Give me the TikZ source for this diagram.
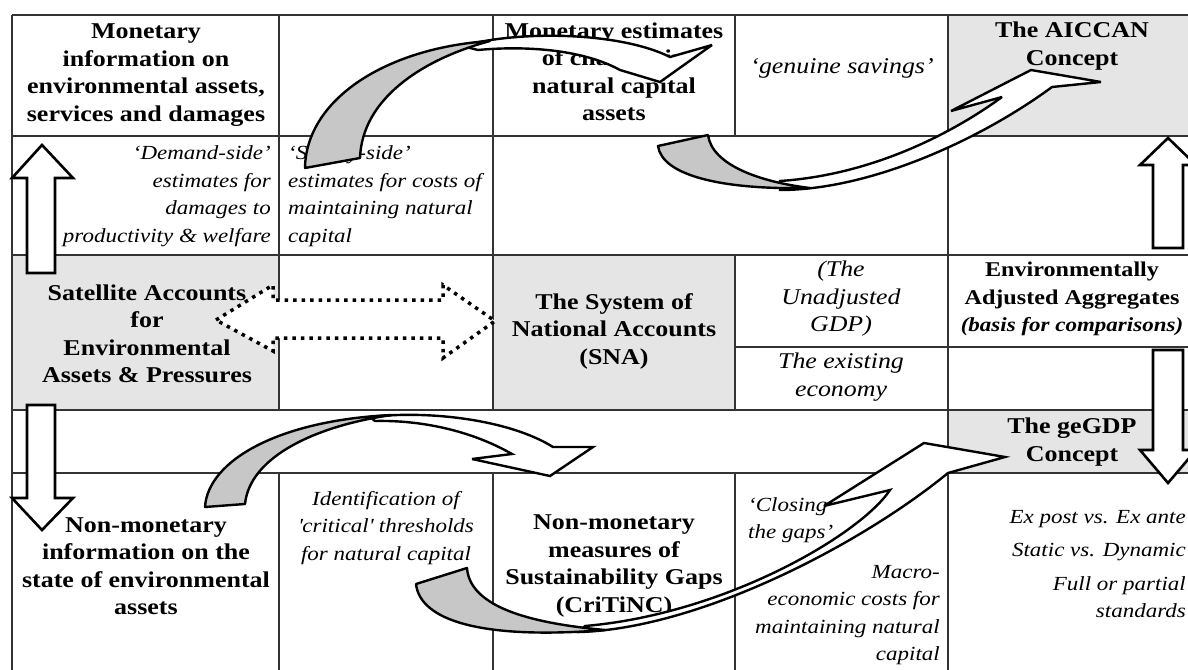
\documentclass[tikz,border=0pt]{standalone}
\usepackage{fontspec}
\setmainfont[FakeStretch=1.15]{Liberation Serif}
\definecolor{cellgrey}{gray}{0.9}
\definecolor{arrgrey}{gray}{0.78}
\newcommand\cellbold{\fontsize{22.6}{27.5}\selectfont\bfseries}
\newcommand\cellital{\fontsize{20}{27.5}\selectfont\itshape}
\newcommand\cellitalbig{\fontsize{22.5}{27.5}\selectfont\itshape}
\tikzset{
  gridline/.style={line width=1.4pt, draw=black!80},
  bt/.style={font=\cellbold, align=center, inner sep=0pt},
  itx/.style={font=\cellital, inner sep=0pt},
  blockarrow/.style={fill=white, draw=black, line width=2.6pt, line join=miter, miter limit=6},
  band/.style={fill=white, draw=black, line width=2.4pt, line join=miter, miter limit=5},
  lens/.style={fill=arrgrey, draw=black, line width=2.4pt, line join=round},
  dotarrow/.style={fill=white, draw=black, line width=3.5pt, dash pattern=on 3.5pt off 5pt},
}
\begin{document}
\begin{tikzpicture}[x=1pt,y=-1pt]
\useasboundingbox (0,0) rectangle (1188,669);
\clip (0,0) rectangle (1188,669);
\fill[white] (0,0) rectangle (1188,669);
% grey cells
\fill[cellgrey] (948,15) rectangle (1200,136);
\fill[cellgrey] (12,255) rectangle (279,410);
\fill[cellgrey] (493,255) rectangle (735,410);
\fill[cellgrey] (948,410) rectangle (1200,473);
% grid
\foreach \yy in {15,136,255,410,473} \draw[gridline] (12,\yy) -- (1200,\yy);
\draw[gridline] (735,347) -- (1200,347);
\draw[gridline] (12,15) -- (12,680);
\draw[gridline] (948,15) -- (948,680);
\foreach \xx in {279,493} {
  \draw[gridline] (\xx,15) -- (\xx,410);
  \draw[gridline] (\xx,473) -- (\xx,680);
}
\draw[gridline] (735,15) -- (735,136);
\draw[gridline] (735,255) -- (735,410);
\draw[gridline] (735,473) -- (735,680);
% texts
\node[bt] (moninfo) at (146,75) {Monetary\\information on\\environmental assets,\\services and damages};
\node[bt] (monest) at (614,72) {Monetary estimates\\of changes in\\natural capital\\assets};
\node[itx, font=\cellitalbig] (genuine) at (842,68) {‘genuine savings’};
\node[bt] (aiccan) at (1072,46) {The AICCAN\\Concept};
\node[itx, align=right, anchor=east] (demand) at (271,196) {‘Demand-side’\\estimates for\\damages to\\productivity \& welfare};
\node[itx, align=left, anchor=west] (supply) at (288,196) {‘Supply-side’\\estimates for costs of\\maintaining natural\\capital};
\node[bt] (satellite) at (147,334) {Satellite Accounts\\for\\Environmental\\Assets \& Pressures};
\node[bt] (sna) at (614,331) {The System of\\National Accounts\\(SNA)};
\node[itx, font=\cellitalbig, align=center] (unadj) at (841,299) {(The\\Unadjusted\\GDP)};
\node[itx, font=\cellitalbig, align=center] (existing) at (841,377) {The existing\\economy};
\node[bt, font=\fontsize{21}{27.5}\selectfont\bfseries] (envadj) at (1072,299) {Environmentally\\Adjusted Aggregates\\{\cellital (basis for comparisons)}};
\node[bt] (gegdp) at (1072,442) {The geGDP\\Concept};
\node[bt] (nonmoninfo) at (146,566) {Non-monetary\\information on the\\state of environmental\\assets};
\node[itx, align=center] (critical) at (386,528) {Identification of\\\textquotesingle critical\textquotesingle{} thresholds\\for natural capital};
\node[bt] (nonmonmeas) at (614,566) {Non-monetary\\measures of\\Sustainability Gaps\\(CriTiNC)};
\node[itx, align=left, anchor=west] (closing) at (748,520) {‘Closing\\the gaps’};
\node[itx, align=right, anchor=east] (macro) at (940,615) {Macro-\\economic costs for\\maintaining natural\\capital};
\node[itx, align=right, anchor=east] (expost) at (1186,564) {Ex post vs. Ex ante\\[6pt]Static vs. Dynamic\\[6pt]Full or partial\\standards};
% block arrows
\draw[blockarrow] (42,145) -- (73,178) -- (55,178) -- (55,273) -- (27,273) -- (27,178) -- (12,178) -- cycle;
\draw[blockarrow] (27,405) -- (55,405) -- (55,498) -- (73,498) -- (42,530) -- (12,498) -- (27,498) -- cycle;
\draw[blockarrow] (1168,138) -- (1196,165) -- (1183,165) -- (1183,248) -- (1153,248) -- (1153,165) -- (1140,165) -- cycle;
\draw[blockarrow] (1153,350) -- (1183,350) -- (1183,450) -- (1196,450) -- (1168,483) -- (1140,450) -- (1153,450) -- cycle;
% dotted double arrow
\draw[dotarrow] (216,320) -- (273,285) -- (273,300) -- (443,300) -- (443,285) -- (495,321) -- (443,358) -- (443,338) -- (273,338) -- (273,351) -- cycle;
% curved arrow 1
\draw[band] (462,46) .. controls (520,30) and (620,32) .. (670,57) -- (712,45) -- (660,82) -- (620,70)
  .. controls (580,48) and (520,46) .. (478,50) -- cycle;
\draw[lens] (305,168) .. controls (306,100) and (385,48) .. (490,41)
  .. controls (420,60) and (362,100) .. (360,158) -- cycle;
% curved arrow 2
\draw[band] (780,190) .. controls (870,190) and (980,140) .. (1052,87) -- (1101,82) -- (1031,70) -- (951,111) -- (1002,97)
  .. controls (950,135) and (870,175) .. (780,181) -- cycle;
\draw[lens] (658,146) .. controls (662,175) and (720,190) .. (810,188)
  .. controls (760,182) and (712,165) .. (708,135) -- cycle;
% curved arrow 3
\draw[band] (370,417) .. controls (430,410) and (510,420) .. (553,447) -- (593,447) -- (550,476) -- (472,459) -- (512,454)
  .. controls (470,430) and (420,420) .. (375,421) -- cycle;
\draw[lens] (205,507) .. controls (208,460) and (280,420) .. (392,415)
  .. controls (320,425) and (250,455) .. (245,504) -- cycle;
% curved arrow 4
\draw[band] (580,632) .. controls (700,628) and (860,545) .. (948,473) -- (1005,457) -- (924,443) -- (824,506) -- (890,490)
  .. controls (860,535) and (725,614) .. (585,626) -- cycle;
\draw[lens] (416,584) .. controls (420,620) and (480,640) .. (605,630)
  .. controls (540,624) and (470,610) .. (467,568) -- cycle;
\end{tikzpicture}
\end{document}
